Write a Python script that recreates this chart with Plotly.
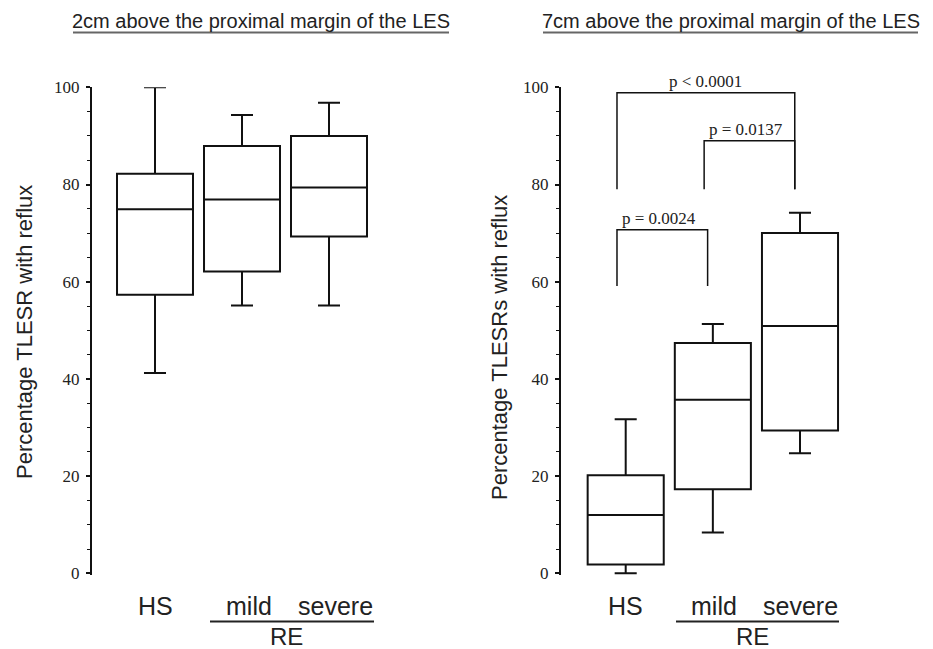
import plotly.graph_objects as go

# ---------------- data ----------------
categories = ["HS", "mild", "severe"]
group_label = "RE"

# Panel A: 2 cm above the proximal margin of the LES
a_title = "2cm above the proximal margin of the LES"
a_ytitle = "Percentage TLESR with reflux"
a_low = [41.2, 55.1, 55.1]
a_q1 = [57.3, 62.1, 69.3]
a_median = [74.9, 76.9, 79.4]
a_q3 = [82.2, 87.9, 90.0]
a_high = [100.0, 94.3, 96.8]

# Panel B: 7 cm above the proximal margin of the LES
b_title = "7cm above the proximal margin of the LES"
b_ytitle = "Percentage TLESRs with reflux"
b_low = [0.0, 8.4, 24.7]
b_q1 = [1.8, 17.3, 29.4]
b_median = [12.0, 35.7, 50.9]
b_q3 = [20.2, 47.4, 70.0]
b_high = [31.7, 51.3, 74.2]

# significance brackets (panel B)
sig_pairs = [("HS", "mild"), ("mild", "severe"), ("HS", "severe")]
sig_labels = ["p = 0.0024", "p = 0.0137", "p < 0.0001"]
sig_top = [70.7, 89.0, 98.9]
sig_base = [59.1, 79.0, 79.0]

y_ticks = [0, 20, 40, 60, 80, 100]

# ---------------- figure ----------------
W, H = 933, 649
pos = [1, 2, 3]
fig = go.Figure()

box_style = dict(
    line=dict(color="#111111", width=2),
    fillcolor="rgba(255,255,255,0)",
    width=0.873,
    whiskerwidth=0.29,
    boxpoints=False,
    showlegend=False,
    hoverinfo="skip",
)

fig.add_trace(go.Box(x=pos, q1=a_q1, median=a_median, q3=a_q3,
                     lowerfence=a_low, upperfence=a_high,
                     xaxis="x", yaxis="y", **box_style))
fig.add_trace(go.Box(x=pos, q1=b_q1, median=b_median, q3=b_q3,
                     lowerfence=b_low, upperfence=b_high,
                     xaxis="x2", yaxis="y2", **box_style))

# brackets
cat_pos = {c: p for c, p in zip(categories, pos)}
for (l, r), lab, top, base in zip(sig_pairs, sig_labels, sig_top, sig_base):
    xl = cat_pos[l] - 0.1
    xr = cat_pos[r] - 0.06
    fig.add_trace(go.Scatter(x=[xl, xl, xr, xr], y=[base, top, top, base],
                             mode="lines", line=dict(color="#111111", width=1.5),
                             xaxis="x2", yaxis="y2", showlegend=False,
                             hoverinfo="skip", cliponaxis=False))

# ---------------- layout ----------------
y0_px, y100_px = 573.3, 87.3
px_per_unit = (y0_px - y100_px) / 100.0
ymin = -0.4
dom_bottom = (H - (y0_px - ymin * px_per_unit)) / H
dom_top = (H - y100_px) / H

def xdom(axis_px, first_px, spacing, xmax=3.7):
    start = 1 - (first_px - axis_px) / spacing
    right_px = axis_px + (xmax - start) * spacing
    return [start, xmax], [axis_px / W, right_px / W]

xa_range, xa_dom = xdom(92, 155, 87.0)
xb_range, xb_dom = xdom(561, 625.7, 87.15)

yaxis_common = dict(
    range=[ymin, 100],
    domain=[dom_bottom, dom_top],
    automargin=False,
    tickvals=y_ticks,
    ticks="outside", ticklen=4, tickwidth=1.5, tickcolor="#111111",
    showline=True, linecolor="#111111", linewidth=2,
    showgrid=False, zeroline=False,
    tickfont=dict(family="Liberation Serif", size=17, color="#222222"),
    ticklabelstandoff=3,
    minor=dict(dtick=5, tick0=0, ticks="outside", ticklen=3, tickwidth=1.2,
               tickcolor="#111111", showgrid=False),
    fixedrange=True,
)
xaxis_common = dict(visible=False, automargin=False, showgrid=False,
                    zeroline=False, fixedrange=True)

fig.update_layout(
    width=W, height=H,
    margin=dict(l=0, r=0, t=0, b=0, pad=0, autoexpand=False),
    paper_bgcolor="white", plot_bgcolor="white",
    xaxis=dict(range=xa_range, domain=xa_dom, anchor="y", **xaxis_common),
    yaxis=dict(anchor="x", **yaxis_common),
    xaxis2=dict(range=xb_range, domain=xb_dom, anchor="y2", **xaxis_common),
    yaxis2=dict(anchor="x2", **yaxis_common),
    font=dict(family="Liberation Sans", color="#1a1a1a"),
)

ann = []
shapes = []
sans = "Liberation Sans"

# panel titles with underline
for txt, cx, x0, x1 in [(a_title, 261, 73, 449), (b_title, 731, 543, 918)]:
    ann.append(dict(text=txt, x=cx / W, y=1 - 21 / H, xref="paper", yref="paper",
                    showarrow=False, xanchor="center", yanchor="middle",
                    font=dict(family=sans, size=20, color="#222222")))
    shapes.append(dict(type="line", xref="paper", yref="paper",
                       x0=x0 / W, x1=x1 / W, y0=1 - 32.5 / H, y1=1 - 32.5 / H,
                       line=dict(color="#666666", width=2)))

# y axis titles
for txt, cx, cy in [(a_ytitle, 24, 332), (b_ytitle, 499, 347)]:
    ann.append(dict(text=txt, x=cx / W, y=1 - cy / H, xref="paper", yref="paper",
                    showarrow=False, textangle=-90, xanchor="center", yanchor="middle",
                    font=dict(family=sans, size=22, color="#222222")))

# category labels and RE group label
for xref, offs, line_px, re_px in [("x", [0.0, 0.08, 0.07], (210, 374), 286),
                                   ("x2", [0.0, 0.01, 0.0], (676, 839), 752)]:
    for c, p, o in zip(categories, pos, offs):
        ann.append(dict(text=c, x=p + o, y=1 - 606 / H, xref=xref, yref="paper",
                        showarrow=False, xanchor="center", yanchor="middle",
                        font=dict(family=sans, size=25, color="#222222")))
    shapes.append(dict(type="line", xref="paper", yref="paper",
                       x0=line_px[0] / W, x1=line_px[1] / W,
                       y0=1 - 621.5 / H, y1=1 - 621.5 / H,
                       line=dict(color="#222222", width=2.2)))
    ann.append(dict(text=group_label, x=re_px / W, y=1 - 636.5 / H, xref="paper", yref="paper",
                    showarrow=False, xanchor="center", yanchor="middle",
                    font=dict(family=sans, size=24, color="#222222")))

# p-value labels
for (l, r), lab, top in zip(sig_pairs, sig_labels, sig_top):
    xl = cat_pos[l] - 0.1
    xr = cat_pos[r] - 0.06
    centered = lab.startswith("p <")
    ann.append(dict(text=lab, x=(xl + xr) / 2 if centered else xl + 0.03,
                    y=top, xref="x2", yref="y2", showarrow=False,
                    xanchor="center" if centered else "left",
                    yanchor="bottom", yshift=0,
                    font=dict(family="Liberation Serif", size=17, color="#222222")))

fig.update_layout(annotations=ann, shapes=shapes)
fig.write_html("out.html")
